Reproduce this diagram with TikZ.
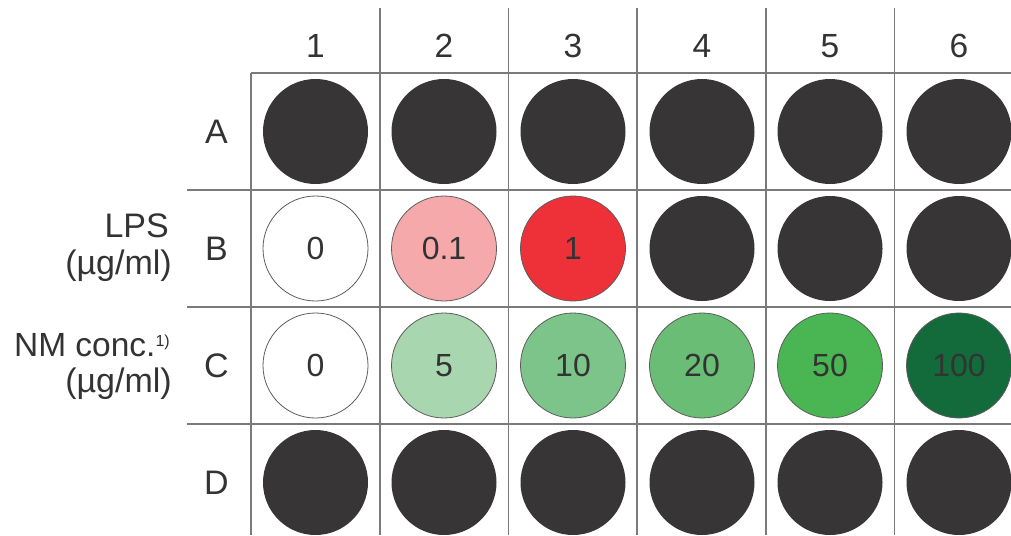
\documentclass[tikz,border=0pt]{standalone}
\usepackage{fontspec}
\setmainfont{Liberation Sans}
\definecolor{txt}{HTML}{333333}
\definecolor{gridc}{HTML}{7A7A7A}
\definecolor{dark}{HTML}{383536}
\definecolor{pinkw}{HTML}{F6A9AA}
\definecolor{redw}{HTML}{EE3139}
\definecolor{gA}{HTML}{A8D6AE}
\definecolor{gB}{HTML}{7DC48A}
\definecolor{gC}{HTML}{6ABD74}
\definecolor{gD}{HTML}{4AB653}
\definecolor{gE}{HTML}{136A3A}
\begin{document}
\begin{tikzpicture}[x=1pt,y=-1pt,
  gridline/.style={draw=gridc,line width=1.6pt},
  well/.style={circle,inner sep=0pt,minimum size=105pt,text=txt,font=\fontsize{32}{36}\selectfont},
  emptywell/.style={well,fill=dark},
  filledwell/.style={well,draw=txt!80,line width=0.8pt},
  collabel/.style={anchor=base,text=txt,font=\fontsize{33.5}{38}\selectfont,inner sep=0pt},
  rowlabel/.style={anchor=base,text=txt,font=\fontsize{34}{38}\selectfont,inner sep=0pt},
  sidelabel/.style={anchor=base east,text=txt,font=\fontsize{34}{38}\selectfont,inner sep=0pt}]
\useasboundingbox (0,0) rectangle (1011,535);
% grid
\draw[gridline] (251,73) -- (1011,73);
\foreach \y in {190,307,424} \draw[gridline] (187,\y) -- (1011,\y);
\draw[gridline] (251,73) -- (251,535);
\foreach \x in {380,508.5,637,766,894.5} \draw[gridline] (\x,8) -- (\x,535);
% column labels
\foreach \i/\x in {1/315.5,2/444,3/573,4/702,5/830,6/959}
  \node[collabel] (col\i) at (\x,57) {\i};
% row labels
\foreach \r/\y in {A/131.5,B/248.5,C/365.5,D/482.5}
  \node[rowlabel] (row\r) at (216.5,\y+12) {\r};
% side labels
\node[sidelabel] (lps1) at (169,237) {LPS};
\node[sidelabel] (lps2) at (172,274) {(µg/ml)};
\node[sidelabel,font=\fontsize{33.5}{38}\selectfont] (nm1) at (170,356) {NM conc.\raisebox{10pt}{\fontsize{16}{18}\selectfont 1)}};
\node[sidelabel] (nm2) at (172,392) {(µg/ml)};
% row A
\foreach \i/\x in {1/315.5,2/444,3/573,4/702,5/830,6/959}
  \node[emptywell] (A\i) at (\x,131.5) {};
% row B
\node[filledwell,fill=white] (B1) at (315.5,248.5) {0};
\node[filledwell,fill=pinkw] (B2) at (444,248.5) {0.1};
\node[filledwell,fill=redw] (B3) at (573,248.5) {1};
\foreach \i/\x in {4/702,5/830,6/959}
  \node[emptywell] (B\i) at (\x,248.5) {};
% row C
\node[filledwell,fill=white] (C1) at (315.5,365.5) {0};
\node[filledwell,fill=gA] (C2) at (444,365.5) {5};
\node[filledwell,fill=gB] (C3) at (573,365.5) {10};
\node[filledwell,fill=gC] (C4) at (702,365.5) {20};
\node[filledwell,fill=gD] (C5) at (830,365.5) {50};
\node[filledwell,fill=gE] (C6) at (959,365.5) {100};
% row D
\foreach \i/\x in {1/315.5,2/444,3/573,4/702,5/830,6/959}
  \node[emptywell] (D\i) at (\x,482.5) {};
\end{tikzpicture}
\end{document}
